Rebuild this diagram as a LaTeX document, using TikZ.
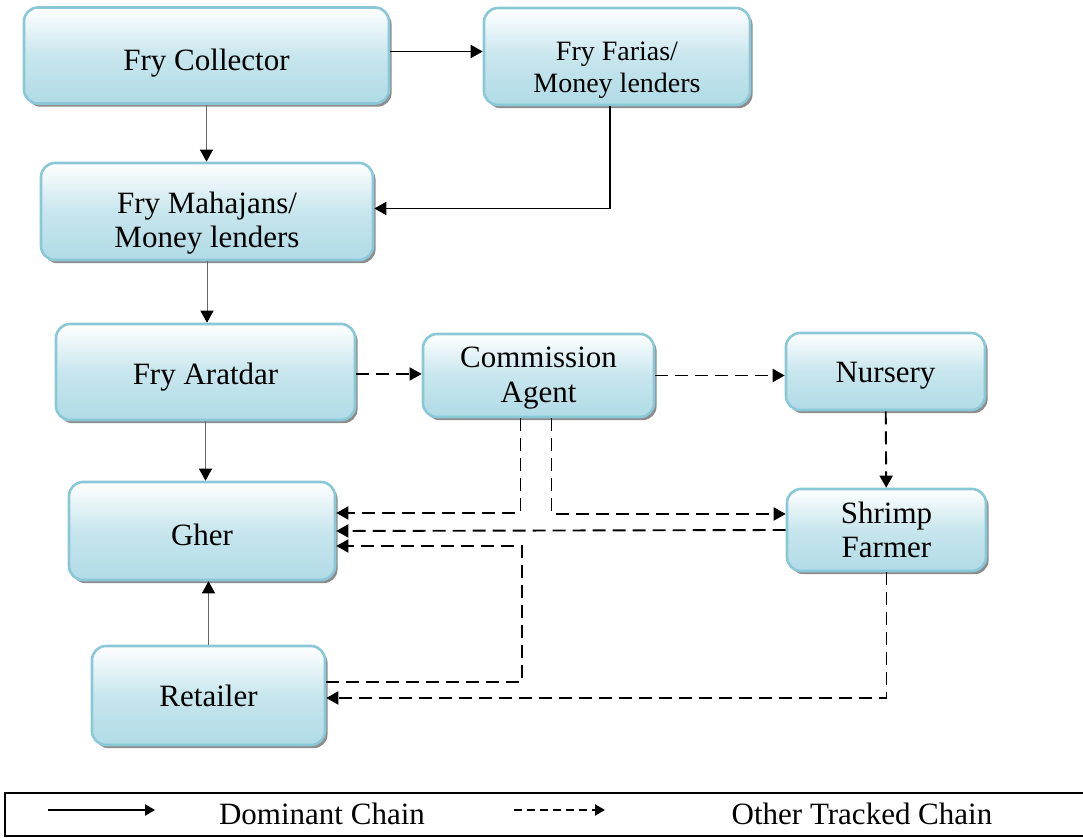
\documentclass[tikz,border=0pt]{standalone}
\usepackage{fontspec}
\setmainfont{Liberation Serif}
\usetikzlibrary{positioning, arrows.meta, shadows}

\definecolor{boxedge}{RGB}{138,200,216}
\definecolor{boxfill}{RGB}{176,219,230}

\begin{document}
\begin{tikzpicture}[
    x=0.5pt, y=-0.5pt,
    font=\fontsize{15.5}{17}\selectfont,
    actor/.style={
        rectangle, rounded corners=7pt,
        draw=boxedge, line width=1.3pt,
        top color=white, bottom color=boxfill, middle color=boxfill!70,
        general shadow={fill=black!45, shadow xshift=1.3pt, shadow yshift=-1.6pt},
        align=center, inner sep=2pt
    },
    flow/.style={-{Triangle[length=6pt, width=6.5pt, color=black]}, line width=0.5pt, draw=black!60},
    mainflow/.style={flow, line width=0.9pt, draw=black},
    tracked/.style={-{Triangle[length=6pt, width=6.5pt]}, line width=0.95pt, dash pattern=on 6.5pt off 3.5pt},
    keyline/.style={-{Triangle[length=5pt, width=5.5pt]}, line width=1.2pt}
]
\useasboundingbox (0,0) rectangle (1083,838);

% ============ Actors ============
\node[actor, minimum width=182.5pt, minimum height=48pt, text height=18.6pt] (collector) at (206.5,55.5) {Fry Collector};
\node[actor, minimum width=133pt, minimum height=48.5pt, text height=39pt, font=\fontsize{14}{16}\selectfont] (farias) at (617,56.5) {Fry Farias/\\Money lenders};
\node[actor, minimum width=166pt, minimum height=48.5pt, text height=39pt] (mahajans) at (207,211.5) {Fry Mahajans/\\Money lenders};
\node[actor, minimum width=149.5pt, minimum height=48pt, text height=15.6pt] (aratdar) at (205.5,372) {Fry Aratdar};
\node[actor, minimum width=115.5pt, minimum height=41.5pt, text height=30.6pt, font=\fontsize{15.5}{17.5}\selectfont] (agent) at (538.5,375.5) {Commission\\Agent};
\node[actor, minimum width=99.5pt, minimum height=38.5pt, text height=14.6pt] (nursery) at (885.5,371.5) {Nursery};
\node[actor, minimum width=133pt, minimum height=49pt, text height=14.6pt] (gher) at (202,531) {Gher};
\node[actor, minimum width=99.5pt, minimum height=41pt] (farmer) at (886.5,530) {Shrimp\\Farmer};
\node[actor, minimum width=116.5pt, minimum height=49.5pt] (retailer) at (208.5,695.5) {Retailer};

% ============ Dominant chain ============
\draw[mainflow] ([yshift=2pt]collector.east) -- ([yshift=2pt]collector.east -| farias.west);
\draw[flow] (collector.south) -- (collector.south |- mahajans.north);
\draw[mainflow] ([xshift=-3.5pt]farias.south) |- ([yshift=1.5pt]mahajans.east);
\draw[flow] (mahajans.south) -- (mahajans.south |- aratdar.north);
\draw[flow] (aratdar.south) -- (aratdar.south |- gher.north);
\draw[flow] (retailer.north) -- (retailer.north |- gher.south);

% ============ Other tracked chain ============
\coordinate (rbend) at (522,546);
\draw[tracked] ([yshift=-1pt]aratdar.east) -- ([yshift=-1pt]aratdar.east -| agent.west);
\draw[tracked] (agent.east) -- (agent.east -| nursery.west);
\draw[tracked] (nursery) -- (farmer);
\draw[tracked] ([xshift=-9pt]agent.south) |- ([yshift=9pt]gher.east);
\draw[tracked] ([xshift=6.5pt]agent.south) |- ([yshift=8pt]farmer.west);
\draw[tracked] (farmer.west) -- (gher.east);
\draw[tracked] ([yshift=6.75pt]retailer.east) -| (rbend) -- ([yshift=-7.5pt]gher.east);
\draw[tracked] (farmer.south) |- ([yshift=-1.25pt]retailer.east);

% ============ Legend ============
\node[draw, line width=0.7pt, minimum width=542.5pt, minimum height=21.5pt, inner sep=0pt] (legend) at (547.5,814.5) {};
\coordinate (domstart) at (48,810);
\coordinate (domend) at (155,810);
\coordinate (othstart) at (514,810);
\coordinate (othend) at (605,810);
\draw[keyline] (domstart) -- (domend);
\draw[keyline, dash pattern=on 4pt off 2.5pt] (othstart) -- (othend);
\node (domtext) at (322,814) {Dominant Chain};
\node (othtext) at (862,814) {Other Tracked Chain};

\end{tikzpicture}
\end{document}
